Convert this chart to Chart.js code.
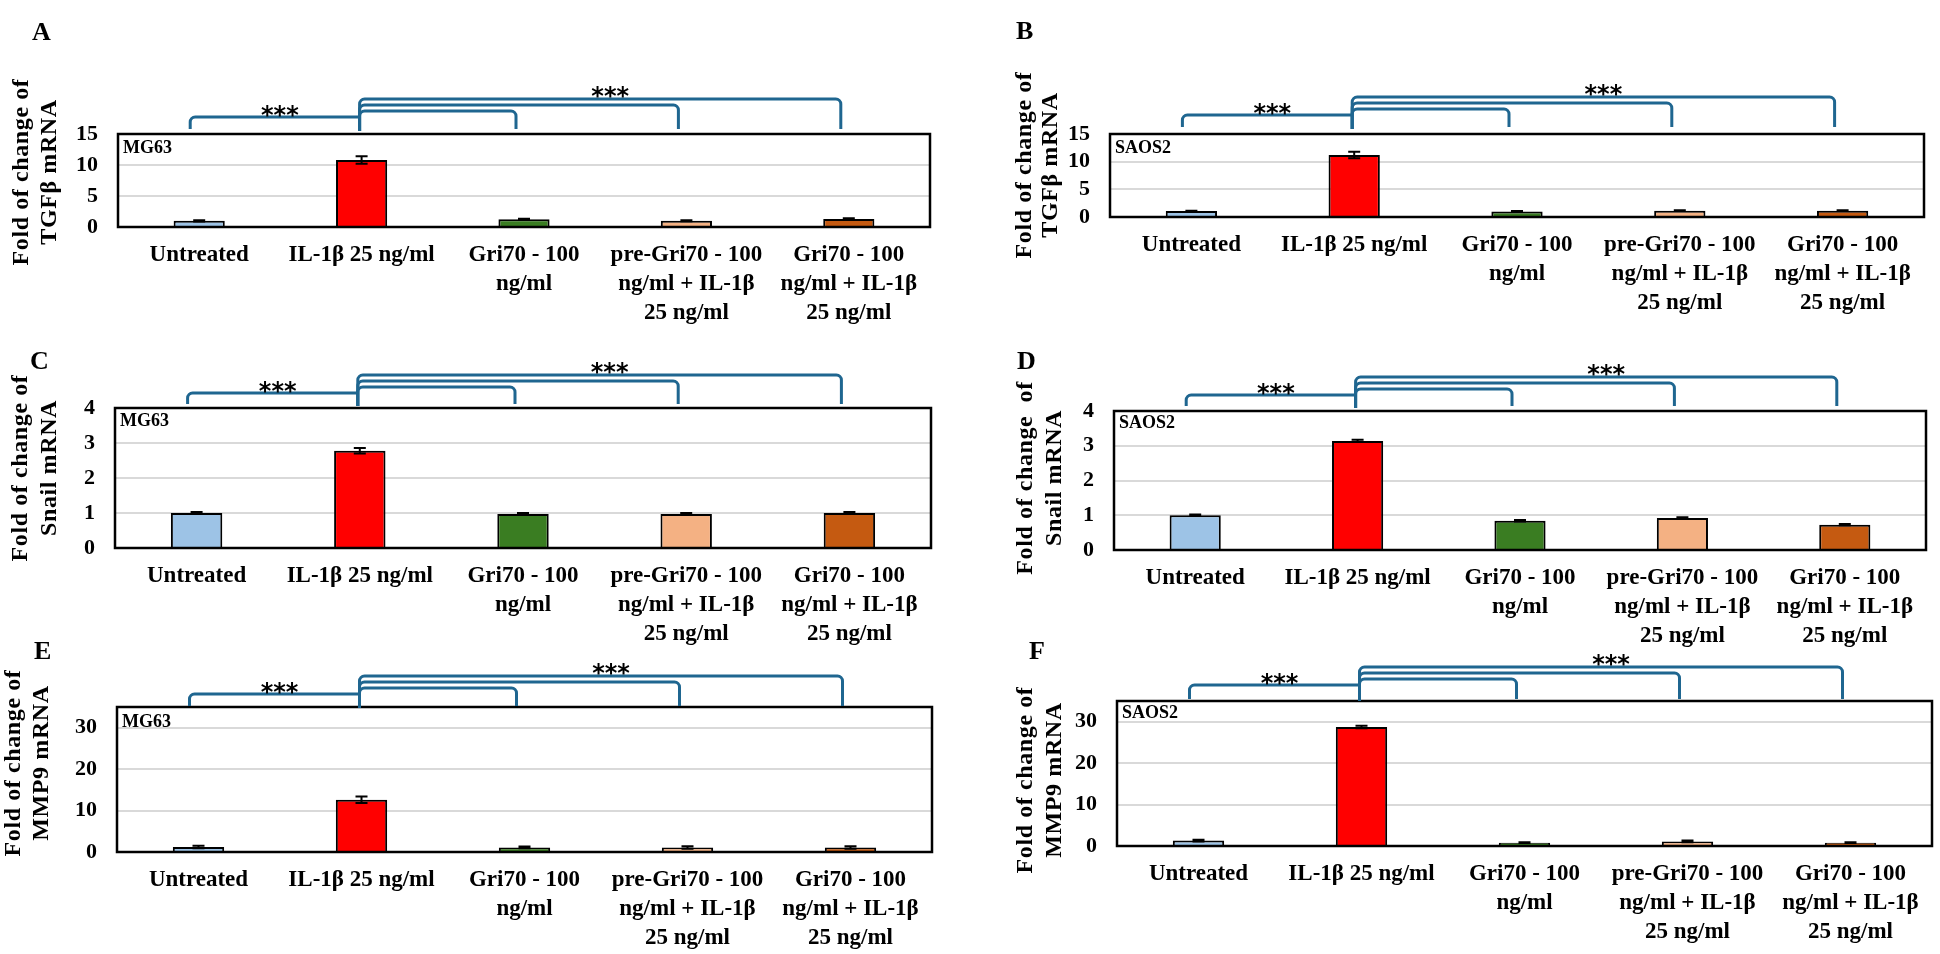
<!DOCTYPE html>
<html>
<head>
<meta charset="utf-8">
<title>Fold change of TGFβ, Snail and MMP9 mRNA</title>
<script src="https://cdn.jsdelivr.net/npm/chart.js@4.4.1/dist/chart.umd.min.js"></script>
<style>
  body { margin: 0; background: #fff; width: 1940px; height: 954px; overflow: hidden; position: relative; }
  canvas { position: absolute; }
</style>
</head>
<body>
<script>
// categories shared by all six panels
const categories = [
    'Untreated',
    'IL-1β 25 ng/ml',
    ['Gri70 - 100', 'ng/ml'],
    ['pre-Gri70 - 100', 'ng/ml + IL-1β', '25 ng/ml'],
    ['Gri70 - 100', 'ng/ml + IL-1β', '25 ng/ml']
];
const barColors = ['#9DC3E6', '#FF0000', '#3A7D22', '#F4B183', '#C55A11'];

// fold change values and error bars
const tgfbMG63 = [1.0, 10.8, 1.25, 1.0, 1.3];
const tgfbMG63Err = [0.1, 0.6, 0.1, 0.08, 0.1];
const tgfbSAOS2 = [1.1, 11.2, 1.0, 1.15, 1.15];
const tgfbSAOS2Err = [0.05, 0.6, 0.1, 0.05, 0.05];
const snailMG63 = [1.0, 2.78, 0.97, 0.97, 1.0];
const snailMG63Err = [0.03, 0.08, 0.03, 0.03, 0.03];
const snailSAOS2 = [1.0, 3.14, 0.84, 0.92, 0.73];
const snailSAOS2Err = [0.02, 0.03, 0.02, 0.02, 0.02];
const mmp9MG63 = [1.2, 12.6, 1.1, 1.1, 1.1];
const mmp9MG63Err = [0.3, 0.8, 0.2, 0.3, 0.3];
const mmp9SAOS2 = [1.3, 28.7, 0.8, 1.1, 0.8];
const mmp9SAOS2Err = [0.2, 0.3, 0.1, 0.2, 0.1];

// axis ranges
const tgfbTicks = [0, 5, 10, 15];
const snailTicks = [0, 1, 2, 3, 4];
const mmp9Ticks = [0, 10, 20, 30];

const serif = '"Liberation Serif", "Times New Roman", serif';
const bracketColor = '#1F6690';

const panels = [
    { letter: 'A', cell: 'MG63', values: tgfbMG63, errors: tgfbMG63Err, ticks: tgfbTicks, max: 15,
      title: ['Fold of change of', 'TGFβ mRNA'],
      canvas: { x: 0, y: 0, w: 975, h: 345 }, area: { l: 118, r: 930, t: 134, b: 227 },
      letterPos: [32, 33], titleX: [22, 50], titleY: 172, cellDy: 14, bracket: { top: 35, drop: 5 } },
    { letter: 'B', cell: 'SAOS2', values: tgfbSAOS2, errors: tgfbSAOS2Err, ticks: tgfbTicks, max: 15,
      title: ['Fold of change of', 'TGFβ mRNA'],
      canvas: { x: 975, y: 0, w: 965, h: 345 }, area: { l: 1110, r: 1924, t: 134, b: 217 },
      letterPos: [1016, 32], titleX: [1025, 1051], titleY: 165, cellDy: 14, bracket: { top: 37, drop: 7 } },
    { letter: 'C', cell: 'MG63', values: snailMG63, errors: snailMG63Err, ticks: snailTicks, max: 4,
      title: ['Fold of change of', 'Snail mRNA'],
      canvas: { x: 0, y: 330, w: 975, h: 330 }, area: { l: 115, r: 931, t: 408, b: 548 },
      letterPos: [30, 362], titleX: [21, 50], titleY: 468, cellDy: 13, bracket: { top: 33, drop: 4 } },
    { letter: 'D', cell: 'SAOS2', values: snailSAOS2, errors: snailSAOS2Err, ticks: snailTicks, max: 4,
      title: ['Fold of change  of', 'Snail mRNA'],
      canvas: { x: 975, y: 330, w: 965, h: 330 }, area: { l: 1114, r: 1926, t: 411, b: 550 },
      letterPos: [1017, 362], titleX: [1026, 1055], titleY: 478, cellDy: 12, bracket: { top: 34, drop: 5 } },
    { letter: 'E', cell: 'MG63', values: mmp9MG63, errors: mmp9MG63Err, ticks: mmp9Ticks, max: 35,
      title: ['Fold of change of', 'MMP9 mRNA'],
      canvas: { x: 0, y: 630, w: 975, h: 324 }, area: { l: 117, r: 932, t: 707, b: 852 },
      letterPos: [34, 652], titleX: [14, 42], titleY: 763, cellDy: 15, bracket: { top: 31, drop: 1 } },
    { letter: 'F', cell: 'SAOS2', values: mmp9SAOS2, errors: mmp9SAOS2Err, ticks: mmp9Ticks, max: 35,
      title: ['Fold of change of', 'MMP9 mRNA'],
      canvas: { x: 975, y: 630, w: 965, h: 324 }, area: { l: 1117, r: 1932, t: 701, b: 846 },
      letterPos: [1029, 652], titleX: [1026, 1055], titleY: 780, cellDy: 12, bracket: { top: 34, drop: 2 } }
];

Chart.defaults.font.family = serif;
Chart.defaults.color = '#000';

function drawBrackets(chart, p) {
    const ctx = chart.ctx;
    const a = chart.chartArea;
    const xs = chart.scales.x;
    const r = 5;
    const T = a.top;
    const top = T - p.bracket.top;
    const foot = T - p.bracket.drop;
    const xL = xs.getPixelForValue(0) - 9;
    const xC = xs.getPixelForValue(1) - 2;
    const leftLevel = top + 18;

    ctx.save();
    ctx.strokeStyle = bracketColor;
    ctx.lineWidth = 3;
    ctx.lineJoin = 'round';

    // untreated vs IL-1β
    ctx.beginPath();
    ctx.moveTo(xL, foot);
    ctx.arcTo(xL, leftLevel, xL + r, leftLevel, r);
    ctx.lineTo(xC, leftLevel);
    ctx.stroke();

    // IL-1β vs each Gri70 group
    [2, 3, 4].forEach((j, k) => {
        const lvl = top + 12 - k * 6;
        const xj = xs.getPixelForValue(j) - 8;
        ctx.beginPath();
        ctx.moveTo(xC, foot + 2);
        ctx.arcTo(xC, lvl, xC + r, lvl, r);
        ctx.arcTo(xj, lvl, xj, lvl + r, r);
        ctx.lineTo(xj, foot);
        ctx.stroke();
    });

    // significance stars
    ctx.fillStyle = '#000';
    ctx.font = 'bold 24px "DejaVu Sans"';
    ctx.textAlign = 'center';
    ctx.textBaseline = 'alphabetic';
    ctx.fillText('***', (xL + xC) / 2 + 5, leftLevel - 8 + 14);
    const x4 = xs.getPixelForValue(4) - 8;
    ctx.fillText('***', (xC + x4) / 2 + 10, top - 9 + 14);
    ctx.restore();
}

const panelDecor = {
    id: 'panelDecor',
    afterDatasetsDraw(chart, args, opts) {
        const p = opts.panel;
        const ctx = chart.ctx;
        const a = chart.chartArea;
        const xs = chart.scales.x;
        const ys = chart.scales.y;
        const ox = p.canvas.x;
        const oy = p.canvas.y;

        ctx.save();
        // error bars
        ctx.strokeStyle = '#000';
        ctx.lineWidth = 2;
        p.values.forEach((v, i) => {
            const x = xs.getPixelForValue(i);
            const yTop = ys.getPixelForValue(v + p.errors[i]);
            const yLow = ys.getPixelForValue(Math.max(0, v - p.errors[i]));
            ctx.beginPath();
            ctx.moveTo(x, yTop); ctx.lineTo(x, yLow);
            ctx.moveTo(x - 6, yTop); ctx.lineTo(x + 6, yTop);
            ctx.moveTo(x - 6, yLow); ctx.lineTo(x + 6, yLow);
            ctx.stroke();
        });

        // plot frame
        ctx.lineWidth = 2.5;
        ctx.strokeRect(a.left, a.top, a.right - a.left, a.bottom - a.top);

        // cell line label
        ctx.fillStyle = '#000';
        ctx.font = 'bold 18px ' + serif;
        ctx.textAlign = 'left';
        ctx.textBaseline = 'middle';
        ctx.fillText(p.cell, a.left + 5, a.top + p.cellDy);

        // panel letter
        ctx.font = 'bold 26px ' + serif;
        ctx.fillText(p.letter, p.letterPos[0] - ox, p.letterPos[1] - oy);

        // y axis title, two rotated lines
        ctx.font = 'bold 24px ' + serif;
        ctx.letterSpacing = '0.6px';
        ctx.textAlign = 'center';
        p.title.forEach((line, i) => {
            ctx.save();
            ctx.translate(p.titleX[i] - ox, p.titleY - oy);
            ctx.rotate(-Math.PI / 2);
            ctx.fillText(line, 0, 0);
            ctx.restore();
        });
        ctx.letterSpacing = '0px';
        ctx.restore();

        drawBrackets(chart, p);
    }
};

function makePanel(p) {
    const canvas = document.createElement('canvas');
    canvas.width = p.canvas.w;
    canvas.height = p.canvas.h;
    canvas.style.left = p.canvas.x + 'px';
    canvas.style.top = p.canvas.y + 'px';
    canvas.style.width = p.canvas.w + 'px';
    canvas.style.height = p.canvas.h + 'px';
    document.body.appendChild(canvas);

    return new Chart(canvas.getContext('2d'), {
        type: 'bar',
        data: {
            labels: categories,
            datasets: [{
                data: p.values,
                backgroundColor: barColors,
                borderColor: '#000',
                borderWidth: 2,
                barPercentage: 0.315,
                categoryPercentage: 1
            }]
        },
        options: {
            responsive: false,
            animation: false,
            events: [],
            layout: {
                padding: {
                    left: 0,
                    top: p.area.t - p.canvas.y,
                    right: p.canvas.x + p.canvas.w - p.area.r,
                    bottom: 0
                }
            },
            plugins: {
                legend: { display: false },
                tooltip: { enabled: false },
                panelDecor: { panel: p }
            },
            scales: {
                x: {
                    grid: { display: false, drawTicks: false },
                    border: { display: false },
                    ticks: {
                        font: { size: 23, weight: 'bold', lineHeight: 1.26 },
                        color: '#000',
                        padding: 14,
                        maxRotation: 0,
                        autoSkip: false
                    },
                    afterFit(scale) { scale.height = p.canvas.y + p.canvas.h - p.area.b; }
                },
                y: {
                    min: 0,
                    max: p.max,
                    grid: { color: '#D9D9D9', lineWidth: 2, drawTicks: false },
                    border: { display: false },
                    ticks: {
                        font: { size: 22, weight: 'bold' },
                        color: '#000',
                        padding: 20,
                        autoSkip: false
                    },
                    afterBuildTicks(scale) { scale.ticks = p.ticks.map(v => ({ value: v })); },
                    afterFit(scale) { scale.width = p.area.l - p.canvas.x; }
                }
            }
        },
        plugins: [panelDecor]
    });
}

panels.forEach(makePanel);
</script>
</body>
</html>
